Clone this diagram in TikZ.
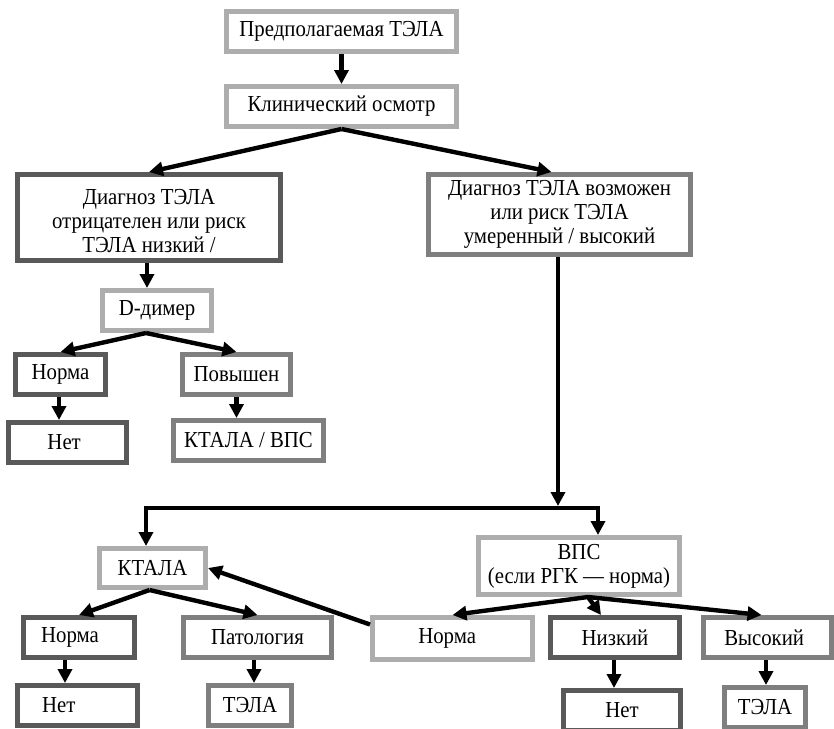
\documentclass[tikz,border=0pt]{standalone}
\usepackage{fontspec}
\usepackage{graphicx}
\setmainfont{Liberation Serif}
\usetikzlibrary{arrows.meta,calc}
\definecolor{edgeL}{HTML}{ADADAD}
\definecolor{edgeM}{HTML}{7F7F7F}
\definecolor{edgeD}{HTML}{595959}
% slightly tall lettering
\newcommand\tl[1]{\scalebox{1}[1.1]{#1}}
\begin{document}
\begin{tikzpicture}[x=0.75pt,y=-0.75pt,
  box/.style={draw, line width=3.75pt, fill=white, inner sep=0pt, align=center,
    font=\fontsize{15.6}{18}\selectfont},
  sz/.style args={#1x#2}{minimum width=#1*0.75pt-3.75pt, minimum height=#2*0.75pt-3.75pt},
  lt/.style={box, draw=edgeL},
  md/.style={box, draw=edgeM},
  dk/.style={box, draw=edgeD},
  tip/.tip={Triangle[width=10.5pt,length=10.5pt]},
  arr/.style={line width=3.3pt, -tip}]
\clip (0,0) rectangle (834,728);

% boxes
\node[lt, sz=235x45] (susp) at (341.5,31.5) {\tl{Предполагаемая ТЭЛА}};
\node[lt, sz=235x45] (exam) at (341.5,106.5) {\tl{Клинический осмотр}};
\node[dk, sz=268x91] (neg) at (149,217.5) {\rule{0pt}{17pt}\tl{Диагноз ТЭЛА}\\\tl{отрицателен или риск}\\\tl{ТЭЛА низкий /}};
\node[md, sz=267x85] (pos) at (559.5,214.5) {\tl{Диагноз ТЭЛА возможен}\\\tl{или риск ТЭЛА}\\\tl{умеренный / высокий}};
\node[lt, sz=114x45] (dd) at (157,310.5) {\tl{D-димер}};
\node[dk, sz=95x45] (ddn) at (60.5,374.5) {\tl{Норма}};
\node[md, sz=113x45] (ddh) at (236.5,374.5) {\tl{Повышен}};
\node[dk, sz=123x45] (ddno) at (67.5,442.5) {\tl{Нет}\hspace{5pt}};
\node[md, sz=155x45] (ddnext) at (248.5,440.5) {\tl{КТАЛА / ВПС}};
\node[lt, sz=111x44] (ct) at (152.5,568) {\tl{КТАЛА}};
\node[lt, sz=206x62] (vq) at (579,566) {\tl{ВПС}\\\tl{(если РГК — норма)}};
\node[dk, sz=116x45] (ctn) at (79,637.5) {\tl{Норма}\hspace{13.5pt}};
\node[md, sz=153x45] (ctp) at (257.5,637.5) {\tl{Патология}};
\node[lt, sz=165x47] (vqn) at (452.5,638.5) {\tl{Норма}\hspace{8pt}};
\node[dk, sz=134x45] (vql) at (615,637.5) {\tl{Низкий}};
\node[md, sz=133x45] (vqh) at (767.5,637.5) {\tl{Высокий}\hspace{5pt}};
\node[dk, sz=125x45] (ctno) at (77.5,705.5) {\tl{Нет}\hspace{28pt}};
\node[md, sz=88x45] (ctyes) at (250,705.5) {\tl{ТЭЛА}};
\node[dk, sz=122x45] (vqno) at (622,710.5) {\tl{Нет}};
\node[md, sz=86x45] (vqyes) at (765,707.5) {\tl{ТЭЛА}};

% upper part
\draw[arr] (susp) -- (exam);
\draw[arr] (exam.south) -- (neg.north);
\draw[arr] (exam.south) -- ($(pos.north)+(-8,0)$);
\coordinate (negout) at ($(neg.south)+(-2,0)$);
\draw[arr] (negout) -- (negout |- dd.north);
\coordinate (ddout) at ($(dd.south)+(-11,0)$);
\draw[arr] (ddout) -- (ddn.north);
\draw[arr] (ddout) -- (ddh.north);
\coordinate (ddnout) at ($(ddn.south)+(-1.5,0)$);
\draw[arr] (ddnout) -- (ddnout |- ddno.north);
\draw[arr] (ddh.south) -- (ddh.south |- ddnext.north);

% branching to the two imaging tests
\coordinate (jM) at (558,506);
\coordinate (jL) at (146,508);
\coordinate (jR) at (598,508);
\draw[arr] (pos.south -| jM) -- (jM);
\draw[line width=3.3pt, tip-tip] (jL |- ct.north) -- (jL) -- (jR) -- (jR |- vq.north);

% CT angiography branch
\coordinate (ctout) at ($(ct.south)+(-3,0)$);
\draw[arr] (ctout) -- (ctn.north);
\draw[arr] (ctout) -- (ctp.north);
\coordinate (ctnout) at ($(ctn.south)+(-14,0)$);
\draw[arr] (ctnout) -- (ctnout |- ctno.north);
\coordinate (ctpout) at ($(ctp.south)+(-3.5,0)$);
\draw[arr] (ctpout) -- (ctpout |- ctyes.north);

% V/Q scan branch
\draw[arr] ($(vqn.west)+(0,-14)$) -- (ct.east);
\coordinate (vqout) at ($(vq.south)+(9,0)$);
\draw[arr] (vqout) -- (vqn.north);
\draw[arr] (vqout) -- ($(vql.north)+(-14,0)$);
\draw[arr] (vqout) -- ($(vqh.north)+(-6,0)$);
\coordinate (vqlout) at ($(vql.south)+(-1,0)$);
\draw[arr] (vqlout) -- (vqlout |- vqno.north);
\coordinate (vqhout) at ($(vqh.south)+(-1.5,0)$);
\draw[arr] (vqhout) -- (vqhout |- vqyes.north);
\end{tikzpicture}
\end{document}
